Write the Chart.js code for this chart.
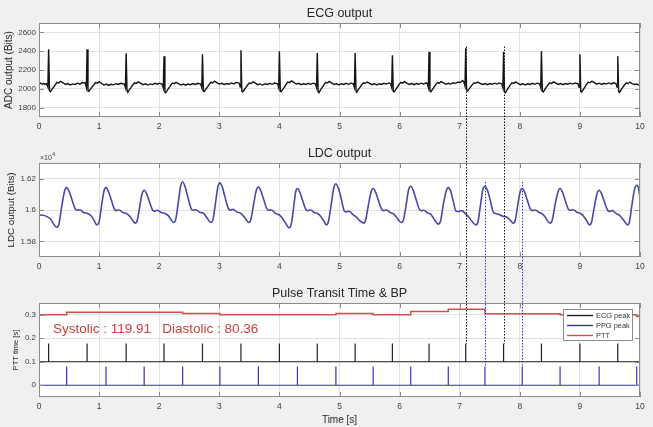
<!DOCTYPE html>
<html>
<head>
<meta charset="utf-8">
<title>ECG / LDC / PTT</title>
<script src="https://cdn.jsdelivr.net/npm/chart.js@4.4.1/dist/chart.umd.min.js"></script>
<style>
  html, body { margin: 0; padding: 0; background: #f0f0f0; }
  #fig { position: relative; width: 653px; height: 427px; overflow: hidden; }
  #fig canvas { position: absolute; left: 0; }
</style>
</head>
<body>
<div id="fig">
  <canvas id="ecg" width="653" height="140" style="top:0"></canvas>
  <canvas id="ldc" width="653" height="140" style="top:140px"></canvas>
  <canvas id="ptt" width="653" height="147" style="top:280px"></canvas>
</div>
<script>
// ── Data ───────────────────────────────────────────────────────────────────
const xTicks   = [0, 1, 2, 3, 4, 5, 6, 7, 8, 9, 10];
const ecgTicks = [1800, 2000, 2200, 2400, 2600];
const ldcTicks = [15800, 16000, 16200];          // shown as x10^4
const pttTicks = [0, 0.1, 0.2, 0.3];

// ECG (ADC bits), [time s, value]
const ecgSamples = [
  [0,2056],[0.025,2062],[0.05,2049],[0.075,2058],[0.1,2047],[0.125,2054],[0.148,2018],
  [0.16,2421],[0.175,1978],[0.19,1970],[0.215,1994],[0.24,2014],[0.27,2042],[0.30,2068],[0.33,2063],[0.36,2080],[0.40,2064],[0.44,2047],[0.48,2055],[0.52,2041],[0.56,2052],[0.60,2046],[0.64,2060],[0.68,2050],[0.72,2066],[0.77,2062],[0.788,2016],
  [0.80,2421],[0.815,1976],[0.83,1972],[0.855,1996],[0.88,2018],[0.91,2040],[0.94,2066],[0.97,2060],[1.00,2076],[1.04,2058],[1.08,2040],[1.12,2050],[1.16,2036],[1.20,2048],[1.24,2042],[1.28,2054],[1.32,2046],[1.36,2058],[1.42,2050],[1.438,2014],
  [1.45,2379],[1.465,1975],[1.48,1968],[1.505,1992],[1.53,2012],[1.56,2040],[1.59,2064],[1.62,2058],[1.65,2074],[1.69,2060],[1.73,2044],[1.77,2054],[1.81,2040],[1.85,2052],[1.89,2045],[1.93,2058],[1.97,2049],[2.01,2060],[2.05,2048],[2.068,2010],
  [2.08,2347],[2.095,1965],[2.11,1958],[2.135,1985],[2.16,2008],[2.19,2036],[2.22,2060],[2.25,2055],[2.28,2068],[2.32,2054],[2.36,2040],[2.40,2050],[2.44,2038],[2.48,2050],[2.52,2044],[2.56,2056],[2.60,2046],[2.64,2058],[2.69,2050],[2.708,2012],
  [2.72,2368],[2.735,1978],[2.75,1972],[2.775,1995],[2.80,2016],[2.83,2044],[2.86,2070],[2.89,2062],[2.92,2082],[2.96,2066],[3.00,2050],[3.04,2058],[3.08,2046],[3.12,2056],[3.16,2048],[3.20,2062],[3.24,2052],[3.28,2068],[3.33,2060],[3.348,2018],
  [3.36,2410],[3.375,1975],[3.39,1966],[3.415,1990],[3.44,2012],[3.47,2040],[3.50,2062],[3.53,2056],[3.56,2074],[3.60,2060],[3.64,2044],[3.68,2052],[3.72,2040],[3.76,2054],[3.80,2046],[3.84,2058],[3.88,2048],[3.92,2062],[3.97,2054],[3.988,2014],
  [4.00,2400],[4.015,1978],[4.03,1970],[4.055,1994],[4.08,2016],[4.11,2046],[4.14,2072],[4.17,2066],[4.20,2084],[4.24,2068],[4.28,2050],[4.32,2058],[4.36,2044],[4.40,2054],[4.44,2046],[4.48,2058],[4.52,2048],[4.56,2060],[4.60,2052],[4.618,2014],
  [4.63,2382],[4.645,1968],[4.66,1960],[4.685,1988],[4.71,2012],[4.74,2042],[4.77,2068],[4.80,2062],[4.83,2078],[4.87,2060],[4.91,2046],[4.95,2056],[4.99,2042],[5.03,2054],[5.07,2046],[5.11,2058],[5.15,2048],[5.19,2060],[5.23,2052],[5.248,2016],
  [5.26,2382],[5.275,1976],[5.29,1970],[5.315,1994],[5.34,2016],[5.37,2044],[5.40,2064],[5.43,2058],[5.46,2072],[5.50,2058],[5.54,2044],[5.58,2054],[5.62,2042],[5.66,2054],[5.70,2046],[5.74,2058],[5.78,2050],[5.82,2062],[5.85,2054],[5.868,2016],
  [5.88,2357],[5.895,1974],[5.91,1968],[5.935,1992],[5.96,2014],[5.99,2044],[6.02,2068],[6.05,2060],[6.08,2076],[6.12,2060],[6.16,2046],[6.20,2056],[6.24,2044],[6.28,2056],[6.32,2048],[6.36,2060],[6.40,2050],[6.44,2064],[6.46,2056],[6.478,2016],
  [6.49,2393],[6.505,1976],[6.52,1968],[6.545,1992],[6.57,2016],[6.60,2044],[6.63,2066],[6.66,2060],[6.69,2076],[6.73,2062],[6.77,2048],[6.81,2058],[6.85,2050],[6.89,2064],[6.93,2058],[6.97,2072],[7.01,2066],[7.05,2088],[7.07,2072],[7.088,2030],
  [7.10,2435],[7.115,1990],[7.13,1976],[7.155,1996],[7.18,2018],[7.21,2044],[7.24,2064],[7.27,2058],[7.30,2072],[7.34,2058],[7.38,2046],[7.42,2056],[7.46,2044],[7.50,2056],[7.54,2048],[7.58,2060],[7.62,2050],[7.66,2062],[7.70,2052],[7.718,2012],
  [7.73,2393],[7.745,1966],[7.76,1958],[7.785,1986],[7.81,2010],[7.84,2040],[7.87,2064],[7.90,2058],[7.93,2074],[7.97,2058],[8.01,2044],[8.05,2054],[8.09,2042],[8.13,2054],[8.17,2046],[8.21,2058],[8.25,2048],[8.29,2060],[8.33,2052],[8.348,2014],
  [8.36,2400],[8.375,1974],[8.39,1966],[8.415,1990],[8.44,2014],[8.47,2042],[8.50,2064],[8.53,2058],[8.56,2074],[8.60,2060],[8.64,2046],[8.68,2056],[8.72,2044],[8.76,2056],[8.80,2048],[8.84,2060],[8.88,2050],[8.92,2062],[8.97,2054],[8.988,2016],
  [9.00,2368],[9.015,1972],[9.03,1964],[9.055,1990],[9.08,2016],[9.11,2046],[9.14,2072],[9.17,2064],[9.20,2082],[9.24,2066],[9.28,2050],[9.32,2060],[9.36,2046],[9.40,2058],[9.44,2050],[9.48,2062],[9.52,2052],[9.56,2064],[9.60,2056],[9.618,2018],
  [9.63,2347],[9.645,1970],[9.66,1962],[9.685,1988],[9.71,2012],[9.74,2040],[9.77,2062],[9.80,2056],[9.83,2070],[9.87,2056],[9.91,2046],[9.95,2052],[9.98,2038],[10,2034],
];

// LDC (bits), [time s, value] — key points of each pulse, drawn with monotone cubic
const ldcSamples = [
  [0,15968],[0.07,15966],[0.14,15956],[0.2,15938],[0.245,15910],
  [0.29,15890],[0.33,15908],[0.375,16015],[0.425,16120],[0.46,16143],[0.50,16120],[0.545,16070],[0.60,16008],[0.63,15998],[0.68,16002],[0.74,15984],[0.81,15978],[0.87,15962],[0.915,15935],
  [0.96,15905],[1.0,15924],[1.04,16025],[1.08,16120],[1.115,16143],[1.155,16118],[1.2,16068],[1.255,16006],[1.285,15996],[1.335,16000],[1.395,15984],[1.46,15976],[1.51,15960],[1.555,15936],
  [1.60,15916],[1.635,15934],[1.675,16020],[1.715,16104],[1.75,16126],[1.79,16104],[1.835,16056],[1.89,16000],[1.92,15992],[1.97,15998],[2.03,15984],[2.10,15978],[2.15,15964],[2.195,15940],
  [2.24,15920],[2.275,15940],[2.315,16040],[2.355,16150],[2.39,16179],[2.43,16150],[2.475,16085],[2.53,16010],[2.56,15998],[2.61,16002],[2.67,15986],[2.74,15978],[2.77,15964],[2.815,15940],
  [2.86,15920],[2.895,15940],[2.935,16040],[2.975,16145],[3.01,16173],[3.05,16146],[3.095,16082],[3.15,16010],[3.18,15998],[3.23,16004],[3.29,15988],[3.36,15978],[3.40,15962],[3.445,15940],
  [3.49,15920],[3.525,15938],[3.57,16035],[3.615,16125],[3.65,16147],[3.69,16124],[3.735,16072],[3.79,16008],[3.82,15998],[3.87,16000],[3.93,15980],[4.0,15968],[4.05,15948],[4.11,15912],
  [4.16,15886],[4.195,15905],[4.235,16010],[4.27,16115],[4.30,16137],[4.34,16114],[4.385,16062],[4.44,16004],[4.47,15996],[4.52,16000],[4.58,15984],[4.64,15976],[4.69,15958],[4.735,15932],
  [4.78,15905],[4.815,15925],[4.86,16030],[4.905,16142],[4.94,16168],[4.98,16140],[5.025,16078],[5.08,15994],[5.11,15988],[5.16,15992],[5.22,15972],[5.28,15955],[5.32,15938],[5.36,15925],
  [5.40,15916],[5.435,15935],[5.48,16030],[5.525,16115],[5.56,16137],[5.60,16114],[5.645,16064],[5.70,16006],[5.73,15996],[5.78,16000],[5.84,15985],[5.90,15975],[5.945,15955],[5.99,15932],
  [6.03,15920],[6.065,15938],[6.11,16035],[6.15,16130],[6.185,16152],[6.225,16128],[6.27,16074],[6.325,16008],[6.355,15996],[6.405,15998],[6.46,15982],[6.52,15972],[6.56,15950],[6.60,15926],
  [6.64,15910],[6.68,15928],[6.725,16030],[6.775,16122],[6.81,16143],[6.85,16120],[6.89,16060],[6.94,15992],[6.98,15990],[7.03,15996],[7.10,15975],[7.16,15950],[7.21,15925],
  [7.27,15905],[7.305,15925],[7.345,16030],[7.385,16130],[7.42,16152],[7.46,16128],[7.505,16068],[7.56,15985],[7.6,15978],[7.65,15972],[7.72,15960],[7.78,15955],[7.84,15935],
  [7.89,15916],[7.925,15935],[7.965,16030],[8.005,16115],[8.04,16137],[8.08,16114],[8.125,16062],[8.18,16004],[8.21,15996],[8.26,16000],[8.32,15984],[8.38,15974],[8.42,15956],[8.46,15932],
  [8.50,15916],[8.54,15935],[8.585,16030],[8.635,16115],[8.67,16137],[8.71,16114],[8.755,16062],[8.81,16004],[8.84,15998],[8.89,16002],[8.95,15986],[9.02,15976],[9.07,15956],[9.115,15930],
  [9.16,15905],[9.195,15924],[9.24,16020],[9.285,16105],[9.32,16126],[9.36,16104],[9.405,16056],[9.46,16000],[9.49,15990],[9.54,15996],[9.60,15978],[9.66,15966],[9.705,15946],[9.75,15924],
  [9.79,15905],[9.825,15925],[9.865,16030],[9.91,16134],[9.945,16158],[9.975,16140],[10,16080],
];

// detected peaks (s) and the levels of their marker spikes
const ecgPeakTimes = [0.16, 0.80, 1.45, 2.08, 2.72, 3.36, 4.00, 4.63, 5.26, 5.88, 6.49, 7.10, 7.73, 8.36, 9.00, 9.63];
const ppgPeakTimes = [0.46, 1.115, 1.75, 2.39, 3.01, 3.65, 4.30, 4.94, 5.56, 6.185, 6.81, 7.42, 8.04, 8.67, 9.32, 9.945];
const ecgMarkBase = 0.1,  ecgMarkTop = 0.178;
const ppgMarkBase = 0,    ppgMarkTop = 0.08;

// PTT step values (s), each held from its time until the next
const pttTimes  = [0, 0.46, 2.39, 3.01, 4.94, 5.56, 6.185, 6.81, 7.42, 8.04, 8.67, 9.945, 10];
const pttValues = [0.300, 0.311, 0.305, 0.300, 0.305, 0.300, 0.314, 0.323, 0.304, 0.304, 0.300, 0.293, 0.293];

// the two beats linked by dotted guide lines
const markedEcgPeaks = [7.10, 7.73];
const markedPpgPeaks = [7.42, 8.04];
const ecgGuideStart = 2450, ppgGuideStart = 16180;

const bpText = 'Systolic : 119.91   Diastolic : 80.36';

// ── Shared look ─────────────────────────────────────────────────────────────
const FONT = '"Liberation Sans", Arial, Helvetica, sans-serif';
Chart.defaults.font.family = FONT;
Chart.defaults.color = '#404040';
Chart.defaults.animation = false;

const GRID = '#e2e2e2';
const BOX  = '#8c8c8c';
const PLOT = { left: 39, right: 640, top: 23, bottom: 117 };   // plot box inside each canvas

const CLR = {
  ecg:      '#141414',
  ldc:      '#4848a8',
  ecgPeak:  '#222222',
  ppgPeak:  '#3434c4',
  ptt:      '#d05050',
  guideK:   '#111111',
  guideB:   '#2f2fe0',
  note:     '#cc3c3c',
};

const toXY = pairs => pairs.map(([x, y]) => ({ x, y }));

function spikeTrain(times, base, top) {
  const pts = [{ x: xTicks[0], y: base }];
  times.forEach(t => pts.push({ x: t, y: base }, { x: t, y: top }, { x: t, y: base }));
  pts.push({ x: xTicks[xTicks.length - 1], y: base });
  return pts;
}

function xScale(canvasH, title) {
  return {
    type: 'linear', min: xTicks[0], max: xTicks[xTicks.length - 1],
    afterBuildTicks: s => { s.ticks = xTicks.map(v => ({ value: v })); },
    afterFit: s => { s.height = canvasH - PLOT.bottom; },
    grid: { color: GRID, drawTicks: false },
    border: { display: false },
    ticks: { padding: 5, font: { size: 8.5 }, maxRotation: 0, autoSkip: false, callback: v => String(v) },
    title: title
      ? { display: true, text: title, color: '#262626', font: { size: 10 }, padding: { top: 0, bottom: 1 } }
      : { display: false },
  };
}

function yScale(min, max, ticks, fmt, title, size, padTop) {
  return {
    type: 'linear', min, max,
    afterBuildTicks: s => { s.ticks = ticks.map(v => ({ value: v })); },
    afterFit: s => { s.width = PLOT.left; },
    grid: { color: GRID, drawTicks: false },
    border: { display: false },
    ticks: { padding: 3, font: { size: 8 }, autoSkip: false, callback: fmt },
    title: { display: true, text: title, color: '#262626', font: { size }, padding: { top: padTop, bottom: 0 } },
  };
}

// per-canvas decorations: title, guide lines, legend, notes
const decor = {};

function dotted(ctx, x, y0, y1, color) {
  ctx.save();
  ctx.strokeStyle = color;
  ctx.lineWidth = 1;
  ctx.setLineDash([1.5, 1.5]);
  ctx.beginPath();
  ctx.moveTo(x, y0);
  ctx.lineTo(x, y1);
  ctx.stroke();
  ctx.restore();
}

const framePlugin = {
  id: 'frame',
  beforeDraw(chart) {
    const { ctx, chartArea: a } = chart;
    ctx.save();
    ctx.fillStyle = '#ffffff';
    ctx.fillRect(a.left, a.top, a.right - a.left, a.bottom - a.top);
    ctx.restore();
  },
  afterDatasetsDraw(chart) {
    const d = decor[chart.canvas.id];
    const { ctx, chartArea: a, scales } = chart;
    const sx = scales.x, sy = scales.y;

    // box with inward tick marks (MATLAB style)
    ctx.save();
    ctx.strokeStyle = BOX;
    ctx.lineWidth = 1;
    ctx.strokeRect(a.left + 0.5, a.top + 0.5, a.right - a.left - 1, a.bottom - a.top - 1);
    ctx.beginPath();
    sx.ticks.forEach(t => {
      const x = Math.round(sx.getPixelForValue(t.value)) + 0.5;
      ctx.moveTo(x, a.top); ctx.lineTo(x, a.top + 5);
      ctx.moveTo(x, a.bottom); ctx.lineTo(x, a.bottom - 5);
    });
    sy.ticks.forEach(t => {
      const y = Math.round(sy.getPixelForValue(t.value)) + 0.5;
      ctx.moveTo(a.left, y); ctx.lineTo(a.left + 5, y);
      ctx.moveTo(a.right, y); ctx.lineTo(a.right - 5, y);
    });
    ctx.stroke();

    // title
    ctx.fillStyle = '#262626';
    ctx.font = '12.5px ' + FONT;
    ctx.textAlign = 'center';
    ctx.textBaseline = 'alphabetic';
    ctx.fillText(d.title, (a.left + a.right) / 2, a.top - 6);

    // axis exponent
    if (d.exponent) {
      ctx.fillStyle = '#404040';
      ctx.textAlign = 'left';
      ctx.font = '7px ' + FONT;
      ctx.fillText('\u00d710', a.left + 1, a.top - 3);
      const w = ctx.measureText('\u00d710').width;
      ctx.font = '5px ' + FONT;
      ctx.fillText(d.exponent, a.left + 1 + w + 0.5, a.top - 7);
    }
    ctx.restore();

    // dotted guide lines running across the subplots
    const level = v => v === 'top' ? 0 : v === 'bottom' ? chart.height : sy.getPixelForValue(v);
    d.marks.forEach(m => {
      const x = Math.round(sx.getPixelForValue(m.t)) + 0.5;
      dotted(ctx, x, level(m.from), level(m.to), m.color);
    });

    // legend box
    if (d.legend) {
      const x0 = a.right - 77, y0 = a.top + 6, w = 70, h = 32;
      ctx.save();
      ctx.fillStyle = '#ffffff';
      ctx.fillRect(x0, y0, w, h);
      ctx.strokeStyle = BOX;
      ctx.lineWidth = 1;
      ctx.strokeRect(x0 + 0.5, y0 + 0.5, w - 1, h - 1);
      ctx.font = '7.4px ' + FONT;
      ctx.textAlign = 'left';
      ctx.textBaseline = 'middle';
      ctx.lineWidth = 1.4;
      d.legend.forEach((item, i) => {
        const y = y0 + 6.5 + i * 10;
        ctx.strokeStyle = item.color;
        ctx.beginPath(); ctx.moveTo(x0 + 4, y); ctx.lineTo(x0 + 30, y); ctx.stroke();
        ctx.fillStyle = '#333333';
        ctx.fillText(item.label, x0 + 33, y);
      });
      ctx.restore();
    }

    // blood-pressure note
    if (d.note) {
      ctx.save();
      ctx.fillStyle = CLR.note;
      ctx.font = '13.5px ' + FONT;
      ctx.textAlign = 'left';
      ctx.textBaseline = 'alphabetic';
      ctx.fillText(d.note, a.left + 14, a.top + 30);
      ctx.restore();
    }
  },
};

function makeChart(id, datasets, scales) {
  const canvas = document.getElementById(id);
  return new Chart(canvas, {
    type: 'line',
    data: { datasets },
    options: {
      responsive: false,
      events: [],
      layout: { padding: { top: PLOT.top, right: canvas.width - PLOT.right, left: 0, bottom: 0 } },
      plugins: { legend: { display: false }, title: { display: false }, tooltip: { enabled: false } },
      elements: { point: { radius: 0 } },
      scales,
    },
    plugins: [framePlugin],
  });
}

// ── ECG ─────────────────────────────────────────────────────────────────────
decor.ecg = {
  title: 'ECG output',
  marks: markedEcgPeaks.map(t => ({ t, from: ecgGuideStart, to: 'bottom', color: CLR.guideK })),
};
makeChart('ecg', [{
  label: 'ECG', data: toXY(ecgSamples), borderColor: CLR.ecg, borderWidth: 1.4, tension: 0,
}], {
  x: xScale(140),
  y: yScale(1700, 2700, ecgTicks, v => String(v), 'ADC output (Bits)', 10, 3.5),
});

// ── LDC ─────────────────────────────────────────────────────────────────────
decor.ldc = {
  title: 'LDC output',
  exponent: '4',
  marks: [
    ...markedEcgPeaks.map(t => ({ t, from: 'top', to: 'bottom', color: CLR.guideK })),
    ...markedPpgPeaks.map(t => ({ t, from: ppgGuideStart, to: 'bottom', color: CLR.guideB })),
  ],
};
makeChart('ldc', [{
  label: 'LDC', data: toXY(ldcSamples), borderColor: CLR.ldc, borderWidth: 1.6,
  cubicInterpolationMode: 'monotone',
}], {
  x: xScale(140),
  y: yScale(15700, 16300, ldcTicks, v => String(v / 10000), 'LDC output (Bits)', 9.8, 5),
});

// ── PTT ─────────────────────────────────────────────────────────────────────
const pttSeries = [
  { label: 'ECG peak', color: CLR.ecgPeak, data: spikeTrain(ecgPeakTimes, ecgMarkBase, ecgMarkTop) },
  { label: 'PPG peak', color: CLR.ppgPeak, data: spikeTrain(ppgPeakTimes, ppgMarkBase, ppgMarkTop) },
  { label: 'PTT',      color: CLR.ptt,     data: pttTimes.map((t, i) => ({ x: t, y: pttValues[i] })), stepped: true, width: 1.5 },
];
decor.ptt = {
  title: 'Pulse Transit Time & BP',
  legend: pttSeries.map(s => ({ label: s.label, color: s.color })),
  note: bpText,
  marks: [
    ...markedEcgPeaks.map(t => ({ t, from: 'top', to: ecgMarkTop, color: CLR.guideK })),
    ...markedPpgPeaks.map(t => ({ t, from: 'top', to: ppgMarkTop, color: CLR.guideB })),
  ],
};
makeChart('ptt', pttSeries.map(s => ({
  label: s.label, data: s.data, borderColor: s.color, borderWidth: s.width || 1.2, stepped: !!s.stepped,
})), {
  x: xScale(147, 'Time [s]'),
  y: yScale(-0.05, 0.35, pttTicks, v => String(v), 'PTT time [s]', 7.5, 11.5),
});
</script>
</body>
</html>
